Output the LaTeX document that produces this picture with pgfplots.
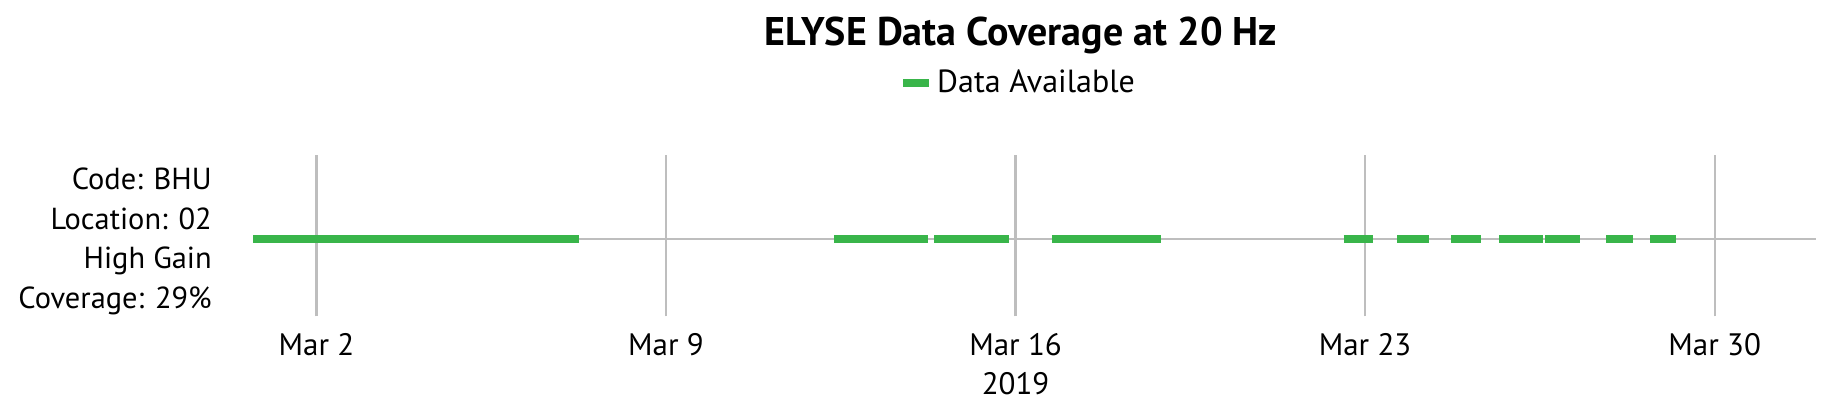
\documentclass[border=0pt]{standalone}
\usepackage{fontspec}
\setmainfont{PT Sans}
\usepackage{pgfplots}
\pgfplotsset{compat=1.18}
\definecolor{avail}{RGB}{57,181,74}
\definecolor{gridgray}{RGB}{190,190,190}
\begin{document}
\begin{tikzpicture}
\path[use as bounding box] (0pt,0pt) rectangle (912pt,-206pt);
\begin{axis}[
  at={(126.5pt,-158.2pt)}, anchor=south west,
  scale only axis, width=781.5pt, height=80.9pt,
  xmin=0.73, xmax=32.03, ymin=-0.92, ymax=1,
  axis line style={draw=none}, tick style={draw=none},
  xtick={2,9,16,23,30},
  xticklabels={Mar 2,Mar 9,{Mar 16\\2019},Mar 23,Mar 30},
  xticklabel style={align=center, font=\fontsize{15.5}{19.5}\selectfont, yshift=-5pt},
  ytick={0}, yticklabels={},
  xmajorgrids, ymajorgrids,
  grid style={gridgray, line width=1.15pt},
  unbounded coords=jump,
  legend style={at={(0.49,1.443)}, anchor=center, draw=none, fill=none,
    font=\fontsize{16}{19}\selectfont},
  legend image code/.code={\draw[#1] (0pt,0pt) -- (13pt,0pt);},
]
\addplot[avail, line width=4.15pt, line cap=butt] coordinates {
  (0.73,0) (7.26,0) (7.26,nan)
  (12.36,0) (14.24,0) (14.24,nan)
  (14.37,0) (15.87,0) (15.87,nan)
  (16.73,0) (18.91,0) (18.91,nan)
  (22.57,0) (23.15,0) (23.15,nan)
  (23.64,0) (24.28,0) (24.28,nan)
  (24.73,0) (25.33,0) (25.33,nan)
  (25.69,0) (26.56,0) (26.56,nan)
  (26.61,0) (27.31,0) (27.31,nan)
  (27.83,0) (28.36,0) (28.36,nan)
  (28.71,0) (29.23,0)
};
\addlegendentry{Data Available}
\end{axis}
\node[font=\fontsize{20}{24}\selectfont\bfseries] at (510.5pt,-17.5pt) {ELYSE Data Coverage at 20 Hz};
\node[anchor=east, align=right, font=\fontsize{15.2}{19.75}\selectfont] at (109.4pt,-120.6pt)
  {Code: BHU\\Location: 02\\High Gain\\Coverage: 29\%};
\end{tikzpicture}
\end{document}
